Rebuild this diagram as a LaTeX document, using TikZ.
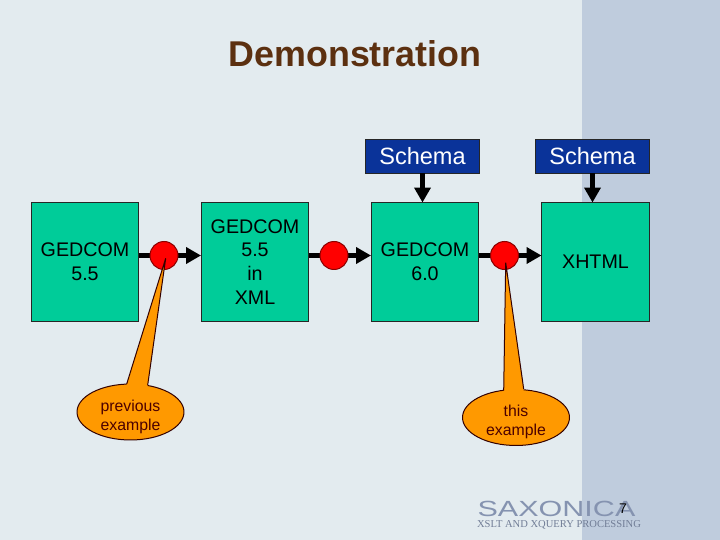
\documentclass[tikz,border=0pt]{standalone}
\usepackage{fontspec}
\setmainfont{Liberation Sans}
\newfontfamily\logoserif{Liberation Serif}
\usetikzlibrary{arrows.meta,shapes.geometric}
\definecolor{pagebg}{HTML}{E3EBEF}
\definecolor{bandbg}{HTML}{BFCCDD}
\definecolor{titlebrown}{HTML}{5C3010}
\definecolor{boxgreen}{HTML}{00CC99}
\definecolor{schemablue}{HTML}{0A3399}
\definecolor{bubbleorange}{HTML}{FF9900}
\definecolor{logoblue}{HTML}{8593B0}
\begin{document}
\begin{tikzpicture}[
  x=0.02cm, y=-0.02cm,
  every node/.style={inner sep=0pt, outer sep=0pt, align=center},
  formatbox/.style={rectangle, draw=black!85, line width=0.02cm, fill=boxgreen,
    minimum width=2.16cm, minimum height=2.38cm,
    font=\fontsize{11.2}{13.6}\selectfont},
  schemabox/.style={rectangle, draw=black!85, line width=0.02cm, fill=schemablue,
    minimum width=2.29cm, minimum height=0.68cm, text=white,
    font=\fontsize{13.4}{16}\selectfont},
  stepdot/.style={circle, draw=red!55!black, line width=0.02cm, fill=red,
    minimum size=0.56cm},
  bubble/.style={ellipse, draw=black!80!red, line width=0.02cm, fill=bubbleorange,
    minimum width=2.14cm, minimum height=1.12cm},
  bubbletext/.style={font=\fontsize{9}{10.8}\selectfont, text=black!70!red},
  flow/.style={-{Triangle[length=0.3cm,width=0.32cm]}, line width=0.1cm, black},
  tail/.style={draw=black!80!red, line width=0.02cm},
]

% Background
\fill[pagebg] (0,0) rectangle (720,540);
\fill[bandbg] (582,0) rectangle (720,540);
\useasboundingbox (0,0) rectangle (720,540);

% Title
\node[font=\fontsize{20.4}{24}\selectfont\bfseries, text=titlebrown] (title) at (355,54) {Demonstration};

% Format boxes
\node[formatbox] (G55) at (85,262) {GEDCOM\\5.5};
\node[formatbox] (GXML) at (255,262) {GEDCOM\\5.5\\in\\XML};
\node[formatbox] (G60) at (425,262) {GEDCOM\\6.0};
\node[formatbox] (XH) at (595.5,262) {XHTML};

% Schemas
\node[schemabox] (S1) at (422.5,156.5) {Schema};
\node[schemabox] (S2) at (592.5,156.5) {Schema};

% Arrows
\draw[flow] (G55.east |- 0,255.5) -- (GXML.west |- 0,255.5);
\draw[flow] (GXML.east |- 0,255.5) -- (G60.west |- 0,255.5);
\draw[flow] (G60.east |- 0,255.5) -- (XH.west |- 0,255.5);
\draw[flow] (S1.south) -- (S1.south |- G60.north);
\draw[flow] (S2.south) -- (S2.south |- XH.north);

% Transformation dots
\node[stepdot] (D1) at (164,255.5) {};
\node[stepdot] (D2) at (334,255.5) {};
\node[stepdot] (D3) at (504.5,255.5) {};

% Callouts
\node[bubble] (B1) at (130.5,412) {};
\node[bubble] (B2) at (516,417.5) {};
\coordinate (T1) at (165.7,258.3);
\coordinate (L1) at (126.7,384);
\coordinate (R1) at (147.7,385);
\coordinate (T2) at (505.7,262.7);
\coordinate (L2) at (503.7,390.5);
\coordinate (R2) at (523.7,389);
\fill[bubbleorange] (T1) -- (L1) -- ([yshift=-0.08cm]L1) -- ([yshift=-0.08cm]R1) -- (R1) -- cycle;
\draw[tail] (L1) -- (T1) -- (R1);
\fill[bubbleorange] (T2) -- (L2) -- ([yshift=-0.08cm]L2) -- ([yshift=-0.08cm]R2) -- (R2) -- cycle;
\draw[tail] (L2) -- (T2) -- (R2);
\node[bubbletext] (B1text) at (130.5,416.5) {previous\\example};
\node[bubbletext] (B2text) at (516,421.5) {this\\example};

% Logo and page number
\node[font=\fontsize{12.5}{13}\selectfont, text=logoblue, xscale=1.39] (logo) at (556.5,509) {SAXONICA};
\node[font=\fontsize{6}{7}\selectfont\logoserif, text=logoblue!85!black] (tagline) at (559,524.5) {XSLT AND XQUERY PROCESSING};
\node[font=\fontsize{8}{10}\selectfont] (pagenum) at (623,509) {7};

\end{tikzpicture}
\end{document}
